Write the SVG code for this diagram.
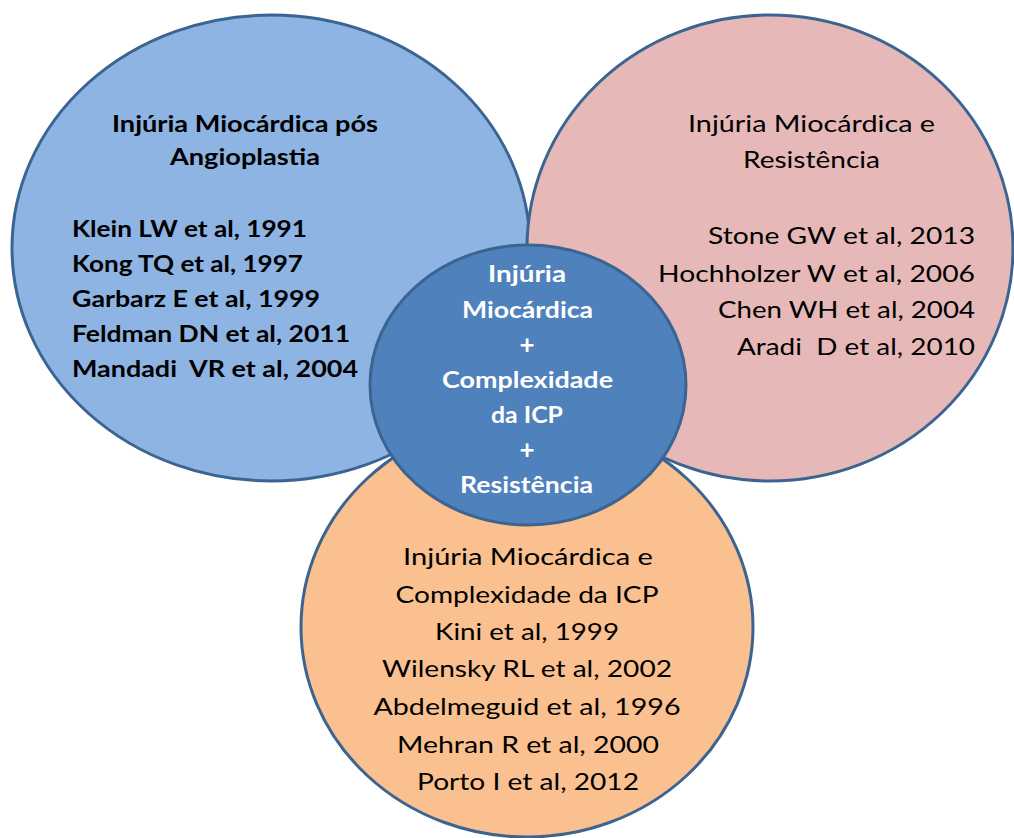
<svg xmlns="http://www.w3.org/2000/svg" width="1014" height="838" viewBox="0 0 1014 838">
<style>
.shape{stroke:#3B6491;stroke-width:3}
text{font-family:Lato,"Open Sans","Liberation Sans",sans-serif;font-size:23.5px;fill:#000}
.b{font-weight:bold}
.w{fill:#fff;font-weight:bold}
.m{text-anchor:middle}
.e{text-anchor:end}
</style>
<rect width="1014" height="838" fill="#fff"/>
<g id="node-angioplastia">
<ellipse class="shape" cx="271" cy="248" rx="259" ry="233" fill="#8EB4E3"/>
<text class="b m" x="245" y="132" textLength="266" lengthAdjust="spacingAndGlyphs">Injúria Miocárdica pós</text>
<text class="b m" x="245" y="165" textLength="150" lengthAdjust="spacingAndGlyphs">Angioplastia</text>
<text class="b" x="72" y="237" textLength="235" lengthAdjust="spacingAndGlyphs">Klein LW et al, 1991</text>
<text class="b" x="72" y="272" textLength="231" lengthAdjust="spacingAndGlyphs">Kong TQ et al, 1997</text>
<text class="b" x="72" y="307" textLength="248" lengthAdjust="spacingAndGlyphs">Garbarz E et al, 1999</text>
<text class="b" x="72" y="342" textLength="278" lengthAdjust="spacingAndGlyphs">Feldman DN et al, 2011</text>
<text class="b" x="72" y="377" textLength="286" lengthAdjust="spacingAndGlyphs" xml:space="preserve">Mandadi  VR et al, 2004</text>
</g>
<g id="node-resistencia">
<ellipse class="shape" cx="770" cy="248" rx="243" ry="233" fill="#E6B9B8"/>
<text class="m" x="811.5" y="132" textLength="247" lengthAdjust="spacingAndGlyphs">Injúria Miocárdica e</text>
<text class="m" x="811.5" y="168" textLength="137" lengthAdjust="spacingAndGlyphs">Resistência</text>
<text class="e" x="975" y="244" textLength="267" lengthAdjust="spacingAndGlyphs">Stone GW et al, 2013</text>
<text class="e" x="975" y="282" textLength="317" lengthAdjust="spacingAndGlyphs">Hochholzer W et al, 2006</text>
<text class="e" x="975" y="318" textLength="257" lengthAdjust="spacingAndGlyphs">Chen WH et al, 2004</text>
<text class="e" x="975" y="355" textLength="238" lengthAdjust="spacingAndGlyphs" xml:space="preserve">Aradi  D et al, 2010</text>
</g>
<g id="node-complexidade">
<ellipse class="shape" cx="527" cy="627" rx="226" ry="210" fill="#FAC090"/>
<text class="m" x="528" y="565" textLength="250" lengthAdjust="spacingAndGlyphs">Injúria Miocárdica e</text>
<text class="m" x="527" y="603" textLength="263" lengthAdjust="spacingAndGlyphs">Complexidade da ICP</text>
<text class="m" x="527" y="640" textLength="184" lengthAdjust="spacingAndGlyphs">Kini et al, 1999</text>
<text class="m" x="527" y="677" textLength="290" lengthAdjust="spacingAndGlyphs">Wilensky RL et al, 2002</text>
<text class="m" x="527" y="715" textLength="307" lengthAdjust="spacingAndGlyphs">Abdelmeguid et al, 1996</text>
<text class="m" x="528" y="753" textLength="262" lengthAdjust="spacingAndGlyphs">Mehran R et al, 2000</text>
<text class="m" x="528" y="790" textLength="222" lengthAdjust="spacingAndGlyphs">Porto I et al, 2012</text>
</g>
<g id="node-centro">
<ellipse class="shape" cx="528" cy="385" rx="158" ry="140" fill="#4F81BD"/>
<text class="w m" x="527" y="282" textLength="78" lengthAdjust="spacingAndGlyphs">Injúria</text>
<text class="w m" x="527.5" y="318" textLength="131" lengthAdjust="spacingAndGlyphs">Miocárdica</text>
<text class="w m" x="527" y="354" style="font-size:26px">+</text>
<text class="w m" x="527.5" y="388" textLength="171" lengthAdjust="spacingAndGlyphs">Complexidade</text>
<text class="w m" x="527" y="423" textLength="72" lengthAdjust="spacingAndGlyphs">da ICP</text>
<text class="w m" x="527" y="459" style="font-size:26px">+</text>
<text class="w m" x="526.5" y="493" textLength="133" lengthAdjust="spacingAndGlyphs">Resistência</text>
</g>
<g id="connectors"/>
</svg>
